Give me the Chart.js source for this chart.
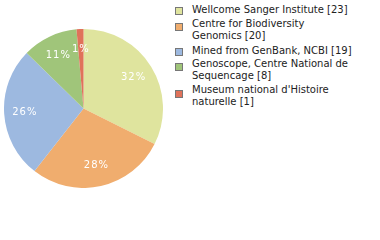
<!DOCTYPE html>
<html>
<head>
<meta charset="UTF-8">
<title>Pie</title>
<script src="https://cdn.jsdelivr.net/npm/chart.js@4.4.0/dist/chart.umd.min.js"></script>
<style>
    html, body { margin: 0; padding: 0; background: #fff; }
    body { width: 380px; height: 240px; position: relative; overflow: hidden; font-family: "DejaVu Sans", sans-serif; }
    #wrap { position: absolute; left: 4px; top: 29px; width: 159px; height: 159px; }
    .item { position: absolute; left: 175px; font-size: 10px; line-height: 11.5px; color: #222; }
    .item span.box { position: absolute; left: 0; width: 6px; height: 6px; border: 1px solid #777; }
    .item div { margin-left: 17px; white-space: nowrap; }
</style>
</head>
<body>
<div id="wrap"><canvas id="myChart"></canvas></div>
<div id="legend"></div>
<script>
    const labels = ['Wellcome Sanger Institute', 'Centre for Biodiversity Genomics', 'Mined from GenBank, NCBI', 'Genoscope, Centre National de Sequencage', "Museum national d'Histoire naturelle"];
    const legendLines = [['Wellcome Sanger Institute [23]'], ['Centre for Biodiversity', 'Genomics [20]'], ['Mined from GenBank, NCBI [19]'], ['Genoscope, Centre National de', 'Sequencage [8]'], ["Museum national d'Histoire", 'naturelle [1]']];
    const counts = [23, 20, 19, 8, 1];
    const colors = ['#dfe49e', '#f0ad6e', '#9db9e0', '#a0c57a', '#e0725a'];

    // legend, html
    const tops = [4, 18, 45, 58, 84];
    const boxTops = [3, 5, 3, 5, 6];
    let html = '';
    legendLines.forEach((lines, i) => {
        html += '<div class="item" style="top:' + tops[i] + 'px"><span class="box" style="top:' + boxTops[i] + 'px;background:' + colors[i] + '"></span><div>' + lines.join('<br>') + '</div></div>';
    });
    document.getElementById('legend').innerHTML = html;

    const total = counts.reduce((a, b) => a + b, 0);

    // percent labels inside the slices (truncated like the original)
    const pctLabels = {
        id: 'pctLabels',
        afterDatasetsDraw(chart) {
            const ctx = chart.ctx;
            const meta = chart.getDatasetMeta(0);
            ctx.save();
            ctx.fillStyle = '#fff';
            ctx.font = '10px "DejaVu Sans"';
            ctx.textAlign = 'center';
            ctx.textBaseline = 'middle';
            if ('letterSpacing' in ctx) ctx.letterSpacing = '1px';
            meta.data.forEach((arc, i) => {
                const p = arc.getProps(['x', 'y', 'startAngle', 'endAngle', 'outerRadius'], true);
                const a = (p.startAngle + p.endAngle) / 2;
                const r = p.outerRadius * 0.74;
                const txt = Math.floor(counts[i] / total * 100) + '%';
                ctx.fillText(txt, p.x + Math.cos(a) * r, p.y + Math.sin(a) * r);
            });
            ctx.restore();
        }
    };

    new Chart(document.getElementById('myChart'), {
        type: 'pie',
        data: {
            labels: labels,
            datasets: [{
                data: counts,
                backgroundColor: colors,
                borderWidth: 0
            }]
        },
        options: {
            responsive: true,
            maintainAspectRatio: false,
            animation: false,
            layout: { padding: 0 },
            plugins: {
                legend: { display: false },
                tooltip: { enabled: false }
            }
        },
        plugins: [pctLabels]
    });
</script>
</body>
</html>
